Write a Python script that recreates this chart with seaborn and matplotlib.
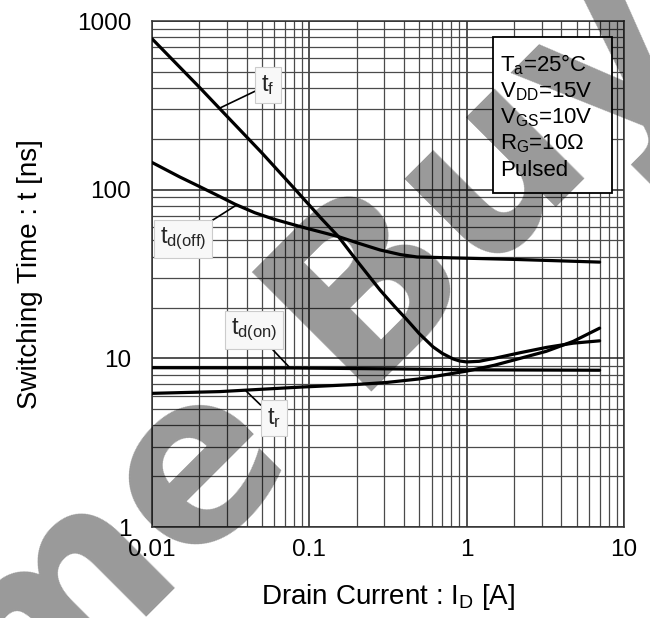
import numpy as np
import pandas as pd
import matplotlib
matplotlib.use("Agg")
import matplotlib.pyplot as plt
import seaborn as sns
from matplotlib.ticker import FixedLocator, FixedFormatter, LogLocator, NullFormatter
from matplotlib.patches import Rectangle

# ---- data ----
id_tf = [0.01, 0.02, 0.03, 0.05, 0.08, 0.12, 0.153, 0.2, 0.2815, 0.35, 0.418, 0.5, 0.611, 0.7, 0.82, 0.9, 1.0, 1.2, 1.5, 2.19, 3.2, 4.75, 7.0]
t_f = [785, 405, 272, 165, 102, 67, 52.7, 38.0, 25.4, 20.2, 16.9, 14.0, 11.7, 10.7, 9.92, 9.65, 9.52, 9.6, 10.0, 10.8, 11.6, 12.3, 12.7]

id_tdoff = [0.01, 0.015, 0.0202, 0.027, 0.0337, 0.045, 0.059, 0.0917, 0.153, 0.2, 0.2815, 0.38, 0.484, 0.82, 2.0, 7.0]
t_doff = [145, 119, 104, 91, 82, 73, 67, 59.7, 52.7, 48.5, 43.9, 41.2, 39.9, 39.4, 38.6, 37.2]

id_tdon = [0.01, 0.075, 0.377, 1.0, 7.0]
t_don = [8.8, 8.77, 8.65, 8.55, 8.5]

id_tr = [0.01, 0.027, 0.0873, 0.2, 0.313, 0.5, 1.0, 1.5, 2.19, 3.2, 4.75, 7.0]
t_r = [6.2, 6.35, 6.75, 7.0, 7.2, 7.55, 8.4, 9.1, 10.0, 11.0, 12.6, 15.1]

x_ticks = [0.01, 0.1, 1, 10]
x_ticklabels = ["0.01", "0.1", "1", "10"]
y_ticks = [1, 10, 100, 1000]
y_ticklabels = ["1", "10", "100", "1000"]

cond_lines = [r"$T_a$=25°C", r"$V_{DD}$=15V", r"$V_{GS}$=10V", r"$R_G$=10Ω", "Pulsed"]

# ---- style ----
sns.set_theme(style="white")
plt.rcParams["font.family"] = ["Liberation Sans", "DejaVu Sans"]
plt.rcParams["mathtext.default"] = "regular"

fig = plt.figure(figsize=(6.5, 6.18), dpi=100)
ax = fig.add_axes([152 / 650, 1 - 527 / 618, 472 / 650, 506 / 618])
ax.set_facecolor("white")

frames = []
for name, xs, ys in [("tf", id_tf, t_f), ("tdoff", id_tdoff, t_doff),
                     ("tdon", id_tdon, t_don), ("tr", id_tr, t_r)]:
    frames.append(pd.DataFrame({"ID": xs, "t": ys, "curve": name}))
df = pd.concat(frames, ignore_index=True)

for name in ["tf", "tdoff", "tdon", "tr"]:
    sub = df[df["curve"] == name]
    sns.lineplot(data=sub, x="ID", y="t", ax=ax, color="black", lw=2.3,
                 sort=False, estimator=None, zorder=5)

ax.set_xscale("log")
ax.set_yscale("log")
ax.set_xlim(0.01, 10)
ax.set_ylim(1, 1000)

ax.xaxis.set_major_locator(FixedLocator(x_ticks))
ax.xaxis.set_major_formatter(FixedFormatter(x_ticklabels))
ax.yaxis.set_major_locator(FixedLocator(y_ticks))
ax.yaxis.set_major_formatter(FixedFormatter(y_ticklabels))
ax.xaxis.set_minor_locator(LogLocator(base=10, subs=np.arange(2, 10)))
ax.yaxis.set_minor_locator(LogLocator(base=10, subs=np.arange(2, 10)))
ax.xaxis.set_minor_formatter(NullFormatter())
ax.yaxis.set_minor_formatter(NullFormatter())

ax.grid(which="major", color="#222222", lw=1.1, zorder=1)
ax.grid(which="minor", color="#4a4a4a", lw=0.9, zorder=1)
ax.set_axisbelow(True)
ax.tick_params(which="both", length=0)
ax.tick_params(axis="x", labelsize=17.5, pad=9, colors="black")
ax.tick_params(axis="y", labelsize=17.5, pad=15, colors="black")
for s in ax.spines.values():
    s.set_color("#333333")
    s.set_linewidth(1.1)

ax.set_xlabel(r"Drain Current : $I_D$ [A]", fontsize=20, labelpad=15, color="black")
ax.set_ylabel("Switching Time : t [ns]", fontsize=20, labelpad=24, color="black")

# curve labels with leader lines
lbl_box = dict(boxstyle="square,pad=0.25", fc="#f8f8f8", ec="#cccccc", lw=0.8)
def curve_label(text, xy_text, xy_curve):
    ax.annotate(text, xy=xy_curve, xytext=xy_text, textcoords="data",
                fontsize=17, ha="center", va="center", bbox=lbl_box,
                arrowprops=dict(arrowstyle="-", color="black", lw=1.2,
                                shrinkA=0, shrinkB=0), zorder=6)

def px2data(px, py):
    return 10 ** (-2 + (px - 152) / 157.3), 10 ** (3 - (py - 21) / 168.7)

curve_label(r"$t_f$", px2data(268, 85), px2data(220, 108))
curve_label(r"$t_{d(off)}$", px2data(183, 239), px2data(235, 206))
curve_label(r"$t_{d(on)}$", px2data(254, 330), px2data(290, 368))
curve_label(r"$t_r$", px2data(274, 418), px2data(246, 391))

# conditions box
ax.add_patch(Rectangle((0.7225, 0.66), 0.252, 0.3085, transform=ax.transAxes,
                       fc="white", ec="black", lw=1.3, zorder=7))
for i, line in enumerate(cond_lines):
    ax.text(0.737, 0.913 - i * 0.052, line, transform=ax.transAxes,
            fontsize=16, ha="left", va="center", zorder=8, color="black")

# watermark overlay (semi-transparent, above everything)
fig.text(18 / 650, 1 - 746 / 618, "me Buy", rotation=45, rotation_mode="anchor",
         fontsize=167, fontweight="bold", family="DejaVu Sans",
         color="black", alpha=0.4, ha="left", va="baseline", zorder=20)

fig.savefig("out.png", dpi=100)
